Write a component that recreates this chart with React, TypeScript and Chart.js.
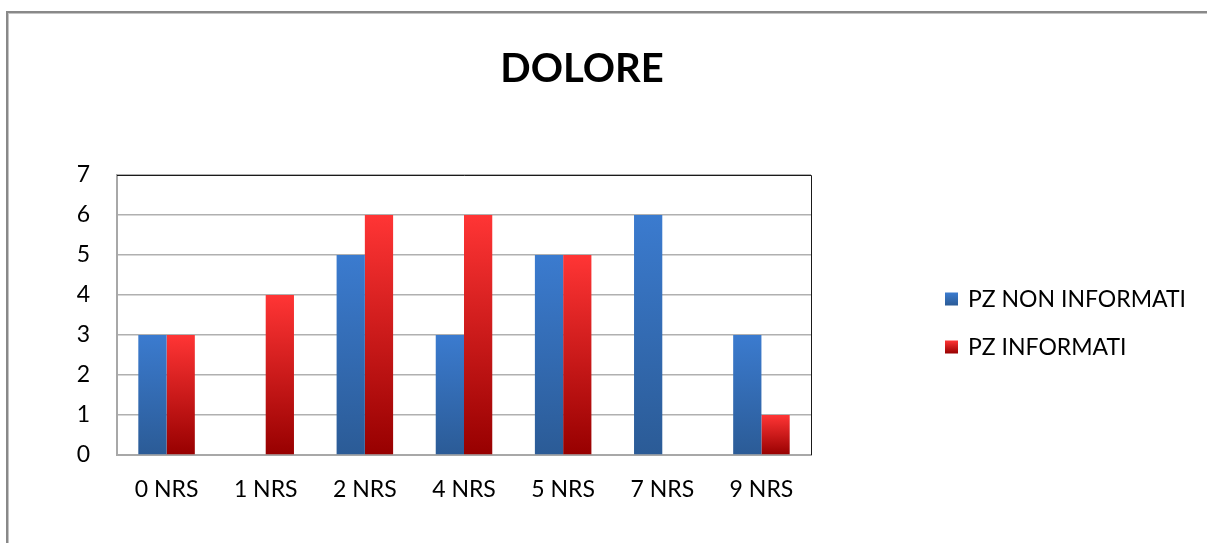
import React, { useEffect, useRef } from "react";
import { Chart, registerables } from "chart.js";

Chart.register(...registerables);

// Pain score categories (NRS) and patient counts per group
const categories = ["0 NRS", "1 NRS", "2 NRS", "4 NRS", "5 NRS", "7 NRS", "9 NRS"];
const seriesNames = ["PZ NON INFORMATI", "PZ INFORMATI"];
const nonInformati = [3, 0, 5, 3, 5, 6, 3];
const informati = [3, 4, 6, 6, 5, 0, 1];
const yTicks = [0, 1, 2, 3, 4, 5, 6, 7];

const FONT = "Lato, 'Open Sans', sans-serif";

const BLUE_TOP = "#3b7bcf";
const BLUE_BOTTOM = "#2b5b96";
const RED_TOP = "#ff3535";
const RED_BOTTOM = "#970000";

// Vertical gradient spanning each bar from its top down to the zero line
const barGradient = (top: string, bottom: string) => (ctx: any) => {
  const chart = ctx.chart;
  const y = chart.scales && chart.scales.y;
  if (!y || ctx.type !== "data") return top;
  const v = ctx.raw as number;
  const y0 = y.getPixelForValue(0);
  const y1 = y.getPixelForValue(v);
  if (!isFinite(y0) || !isFinite(y1) || y0 === y1) return bottom;
  const g = chart.ctx.createLinearGradient(0, y1, 0, y0);
  g.addColorStop(0, top);
  g.addColorStop(1, bottom);
  return g;
};

// Outer frame of the chart object
const framePlugin = {
  id: "frame",
  beforeDraw(chart: any) {
    const { ctx, width, height } = chart;
    ctx.save();
    ctx.fillStyle = "#ffffff";
    ctx.fillRect(0, 0, width, height);
    ctx.fillStyle = "#898989";
    ctx.fillRect(6, 11, width, 2);
    ctx.fillRect(6, 11, 2, height);
    ctx.fillStyle = "#c4c4c4";
    ctx.fillRect(8, 13, width, 1);
    ctx.fillRect(8, 13, 1, height);
    ctx.restore();
  },
};

// Dark top and right edges of the plot area
const plotEdgePlugin = {
  id: "plotEdge",
  afterDatasetsDraw(chart: any) {
    const { ctx, chartArea } = chart;
    ctx.save();
    ctx.strokeStyle = "#1a1a1a";
    ctx.lineWidth = 1;
    ctx.beginPath();
    ctx.moveTo(chartArea.left, chartArea.top + 0.5);
    ctx.lineTo(chartArea.right + 0.5, chartArea.top + 0.5);
    ctx.lineTo(chartArea.right + 0.5, chartArea.bottom);
    ctx.stroke();
    ctx.restore();
  },
};

// Legend on the right with square swatches
const sideLegendPlugin = {
  id: "sideLegend",
  afterDraw(chart: any) {
    const { ctx, chartArea } = chart;
    const colors = [
      [BLUE_TOP, BLUE_BOTTOM],
      [RED_TOP, RED_BOTTOM],
    ];
    const x = chartArea.right + 134;
    const y0 = 299;
    const step = 48;
    ctx.save();
    chart.data.datasets.forEach((ds: any, i: number) => {
      const cy = y0 + i * step;
      const g = ctx.createLinearGradient(0, cy - 6.5, 0, cy + 6.5);
      g.addColorStop(0, colors[i][0]);
      g.addColorStop(1, colors[i][1]);
      ctx.fillStyle = g;
      ctx.fillRect(x, cy - 6.5, 13, 13);
      ctx.fillStyle = "#000000";
      ctx.font = `23px ${FONT}`;
      ctx.textBaseline = "middle";
      ctx.textAlign = "left";
      ctx.fillText(ds.label, x + 23, cy + 1);
    });
    ctx.restore();
  },
};

export default function App() {
  const canvasRef = useRef<HTMLCanvasElement | null>(null);

  useEffect(() => {
    const canvas = canvasRef.current;
    if (!canvas) return;
    const chart = new Chart(canvas, {
      type: "bar",
      data: {
        labels: categories,
        datasets: [
          {
            label: seriesNames[0],
            data: nonInformati,
            backgroundColor: barGradient(BLUE_TOP, BLUE_BOTTOM),
            borderWidth: 0,
            barPercentage: 1,
            categoryPercentage: 0.57,
          },
          {
            label: seriesNames[1],
            data: informati,
            backgroundColor: barGradient(RED_TOP, RED_BOTTOM),
            borderWidth: 0,
            barPercentage: 1,
            categoryPercentage: 0.57,
          },
        ],
      },
      options: {
        responsive: false,
        animation: false,
        layout: { padding: { top: 0, left: 0, right: 43, bottom: 0 } },
        plugins: {
          legend: { display: false },
          tooltip: { enabled: false },
          title: {
            display: true,
            text: "DOLORE",
            color: "#000000",
            font: { family: FONT, size: 40, weight: "bold", lineHeight: 1.2 },
            padding: { top: 45, bottom: 82 },
          },
        },
        scales: {
          x: {
            grid: { display: false, drawTicks: false },
            border: { color: "#a8a8a8", width: 2 },
            ticks: {
              color: "#000000",
              padding: 21,
              font: { family: FONT, size: 23 },
            },
            afterFit(scale: any) {
              scale.height = 88;
            },
          },
          y: {
            min: 0,
            max: 7,
            afterBuildTicks(scale: any) {
              scale.ticks = yTicks.map((v) => ({ value: v }));
            },
            grid: { color: "#b0b0b0", lineWidth: 1.5, drawTicks: false },
            border: { color: "#a8a8a8", width: 2 },
            ticks: {
              color: "#000000",
              padding: 27,
              font: { family: FONT, size: 23 },
            },
            afterFit(scale: any) {
              scale.width = 117;
            },
          },
          // empty space between the plot and the legend
          legendGap: {
            type: "linear",
            position: "right",
            grid: { display: false, drawTicks: false },
            border: { display: false },
            ticks: { display: false },
            afterFit(scale: any) {
              scale.width = 353;
            },
          },
        },
      },
      plugins: [framePlugin, plotEdgePlugin, sideLegendPlugin],
    });
    return () => chart.destroy();
  }, []);

  return (
    <canvas
      ref={canvasRef}
      width={1207}
      height={543}
      style={{ position: "absolute", left: 0, top: 0, width: 1207, height: 543 }}
    />
  );
}
